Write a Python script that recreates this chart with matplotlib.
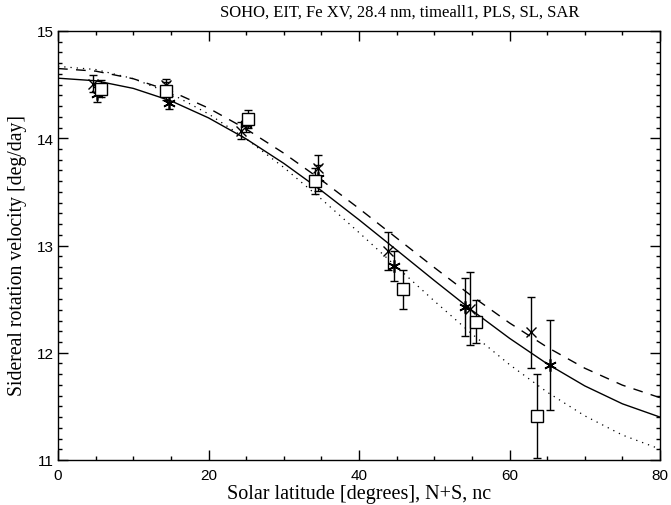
import matplotlib.pyplot as plt
from matplotlib.ticker import MultipleLocator

# fitted profiles every 5 degrees
lat_curve = [0, 5, 10, 15, 20, 25, 30, 35, 40, 45, 50, 55, 60, 65, 70, 75, 80]
solid_v = [14.560, 14.536, 14.465, 14.349, 14.190, 13.994, 13.766, 13.512, 13.240,
           12.958, 12.674, 12.396, 12.135, 11.897, 11.691, 11.524, 11.400]
dashed_v = [14.650, 14.626, 14.555, 14.439, 14.281, 14.086, 13.861, 13.611, 13.345,
            13.070, 12.795, 12.528, 12.278, 12.052, 11.856, 11.698, 11.581]
dotted_v = [14.670, 14.641, 14.556, 14.416, 14.227, 13.995, 13.728, 13.433, 13.121,
            12.801, 12.483, 12.176, 11.890, 11.633, 11.412, 11.233, 11.102]

# measured points
cross_lat = [4.6, 14.4, 24.3, 34.6, 43.8, 54.7, 62.8]
cross_v = [14.51, 14.50, 14.07, 13.72, 12.95, 12.41, 12.19]
cross_err = [0.08, 0.05, 0.08, 0.12, 0.18, 0.34, 0.33]

star_lat = [5.2, 14.8, 25.0, 34.5, 44.6, 54.1, 65.4]
star_v = [14.41, 14.33, 14.13, 13.63, 12.81, 12.43, 11.89]
star_err = [0.07, 0.06, 0.07, 0.12, 0.14, 0.27, 0.42]

sq_lat = [5.7, 14.4, 25.2, 34.1, 45.8, 55.5, 63.7]
sq_v = [14.46, 14.44, 14.18, 13.60, 12.59, 12.29, 11.41]
sq_err = [0.08, 0.08, 0.08, 0.12, 0.18, 0.20, 0.39]

serif = 'Liberation Serif'

fig = plt.figure(figsize=(6.71, 5.06), dpi=100)
ax = fig.add_axes([58 / 671, 45 / 506, 602 / 671, 429 / 506])

ax.plot(lat_curve, solid_v, color='black', lw=1.0)
ax.plot(lat_curve, dashed_v, color='black', lw=1.0, linestyle=(0, (7, 6)))
ax.plot(lat_curve, dotted_v, color='black', lw=0.9, linestyle=(0, (1, 4)))

eb = dict(fmt='none', ecolor='black', elinewidth=1.0, capsize=3, capthick=1.0)
ax.errorbar(cross_lat, cross_v, yerr=cross_err, **eb)
ax.errorbar(star_lat, star_v, yerr=star_err, **eb)
ax.errorbar(sq_lat, sq_v, yerr=sq_err, **eb)

ax.plot(cross_lat, cross_v, linestyle='none', marker='x', color='black', ms=7, mew=1.0)
ax.plot(star_lat, star_v, linestyle='none', marker=(6, 2, 0), color='black', ms=9, mew=1.2)
ax.plot(sq_lat, sq_v, linestyle='none', marker='s', mfc='white', mec='black', ms=9, mew=1.0)

ax.set_xlim(0, 80)
ax.set_ylim(11, 15)
ax.xaxis.set_major_locator(MultipleLocator(20))
ax.xaxis.set_minor_locator(MultipleLocator(5))
ax.yaxis.set_major_locator(MultipleLocator(1))
ax.yaxis.set_minor_locator(MultipleLocator(0.1))
ax.tick_params(which='both', direction='in', top=True, right=True, width=1.0)
ax.tick_params(which='major', length=7)
ax.tick_params(which='minor', length=3)
ax.tick_params(axis='x', pad=6)
ax.tick_params(axis='y', pad=3)
for lab in ax.get_xticklabels() + ax.get_yticklabels():
    lab.set_fontfamily('Liberation Sans')
    lab.set_fontsize(11)
for s in ax.spines.values():
    s.set_linewidth(1.0)

fig.text(400 / 671, 1 - 13 / 506, 'SOHO, EIT, Fe XV, 28.4 nm, timeall1, PLS, SL, SAR',
         fontfamily=serif, fontsize=12, ha='center', va='center')
ax.set_xlabel('Solar latitude [degrees], N+S, nc', fontfamily=serif, fontsize=14.5, labelpad=1)
ax.set_ylabel('Sidereal rotation velocity [deg/day]', fontfamily=serif, fontsize=14.2)
ax.yaxis.set_label_coords(-0.052, 0.478)

fig.savefig('out.png', dpi=100)
